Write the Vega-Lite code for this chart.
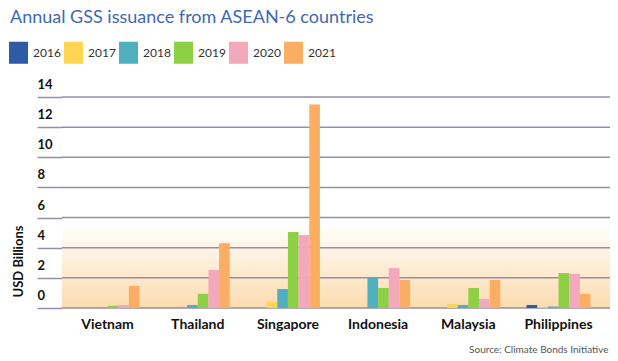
{
  "$schema": "https://vega.github.io/schema/vega-lite/v6.json",
  "width": 548,
  "height": 211,
  "autosize": {"type": "none"},
  "padding": {"left": 62, "top": 97, "right": 8, "bottom": 53},
  "background": "white",
  "config": {"view": {"stroke": null}, "font": "Lato"},
  "title": {
    "text": "Annual GSS issuance from ASEAN-6 countries",
    "anchor": "start",
    "frame": "group",
    "dx": -52,
    "fontSize": 18,
    "fontWeight": "normal",
    "color": "#4169b0",
    "offset": 16
  },
  "datasets": {
    "issuance": [
      {"country": "Vietnam", "year": "2019", "value": 0.15},
      {"country": "Vietnam", "year": "2020", "value": 0.2},
      {"country": "Vietnam", "year": "2021", "value": 1.47},
      {"country": "Thailand", "year": "2018", "value": 0.2},
      {"country": "Thailand", "year": "2019", "value": 0.94},
      {"country": "Thailand", "year": "2020", "value": 2.52},
      {"country": "Thailand", "year": "2021", "value": 4.3},
      {"country": "Singapore", "year": "2017", "value": 0.42},
      {"country": "Singapore", "year": "2018", "value": 1.26},
      {"country": "Singapore", "year": "2019", "value": 5.04},
      {"country": "Singapore", "year": "2020", "value": 4.84},
      {"country": "Singapore", "year": "2021", "value": 13.5},
      {"country": "Indonesia", "year": "2018", "value": 2.05},
      {"country": "Indonesia", "year": "2019", "value": 1.33},
      {"country": "Indonesia", "year": "2020", "value": 2.65},
      {"country": "Indonesia", "year": "2021", "value": 1.86},
      {"country": "Malaysia", "year": "2017", "value": 0.27},
      {"country": "Malaysia", "year": "2018", "value": 0.2},
      {"country": "Malaysia", "year": "2019", "value": 1.33},
      {"country": "Malaysia", "year": "2020", "value": 0.6},
      {"country": "Malaysia", "year": "2021", "value": 1.86},
      {"country": "Philippines", "year": "2016", "value": 0.2},
      {"country": "Philippines", "year": "2017", "value": 0.05},
      {"country": "Philippines", "year": "2018", "value": 0.1},
      {"country": "Philippines", "year": "2019", "value": 2.32},
      {"country": "Philippines", "year": "2020", "value": 2.26},
      {"country": "Philippines", "year": "2021", "value": 0.93}
    ],
    "gridlines": [
      {"v": 0}, {"v": 2}, {"v": 4}, {"v": 6}, {"v": 8}, {"v": 10}, {"v": 12}, {"v": 14}
    ]
  },
  "layer": [
    {
      "mark": {
        "type": "rect",
        "color": {
          "gradient": "linear",
          "x1": 0, "y1": 0, "x2": 0, "y2": 1,
          "stops": [
            {"offset": 0, "color": "#ffffff"},
            {"offset": 1, "color": "#fcdcb0"}
          ]
        }
      },
      "data": {"values": [{}]},
      "encoding": {
        "y": {
          "datum": 5.7,
          "type": "quantitative",
          "scale": {"domain": [0, 14], "nice": false},
          "axis": {
            "values": [0, 2, 4, 6, 8, 10, 12, 14],
            "tickCount": 8,
            "grid": false,
            "domain": false,
            "ticks": true,
            "tickSize": 25,
            "tickColor": "#958fa5",
            "tickWidth": 1.5,
            "labelAlign": "left",
            "labelPadding": 0,
            "labelOffset": -12.5,
            "labelBaseline": "middle",
            "labelFontWeight": "bold",
            "labelFontSize": 13,
            "labelColor": "#111111",
            "labelFlush": false,
            "labelOverlap": false,
            "title": "USD Billions",
            "titleFontSize": 13,
            "titleFontWeight": "bold",
            "titleColor": "#111111",
            "titleAngle": 270,
            "titleAlign": "center",
            "titleBaseline": "middle",
            "titleX": -44,
            "titleY": 164
          }
        },
        "y2": {"datum": 0}
      }
    },
    {
      "data": {"name": "gridlines"},
      "mark": {"type": "rule", "color": "#958fa5", "strokeWidth": 1.5},
      "encoding": {
        "y": {"field": "v", "type": "quantitative"}
      }
    },
    {
      "data": {"name": "issuance"},
      "mark": {"type": "bar", "opacity": 1},
      "encoding": {
        "x": {
          "field": "country",
          "type": "nominal",
          "sort": ["Vietnam", "Thailand", "Singapore", "Indonesia", "Malaysia", "Philippines"],
          "scale": {"paddingInner": 0.2905, "paddingOuter": 0.183, "align": 0.41, "round": false},
          "axis": {
            "labelAngle": 0,
            "labelFontWeight": "bold",
            "labelFontSize": 14,
            "labelColor": "#111111",
            "labelPadding": 9,
            "ticks": false,
            "domain": false,
            "title": "Source: Climate Bonds Initiative",
            "titleFontSize": 10,
            "titleFontWeight": "normal",
            "titleColor": "#555555",
            "titleAlign": "right",
            "titleAnchor": "end",
            "titleBaseline": "middle",
            "titleX": 546,
            "titleY": 41
          }
        },
        "xOffset": {
          "field": "year",
          "type": "nominal",
          "scale": {"domain": ["2016", "2017", "2018", "2019", "2020", "2021"], "paddingInner": 0, "paddingOuter": 0}
        },
        "y": {
          "field": "value",
          "type": "quantitative"
        },
        "color": {
          "field": "year",
          "type": "nominal",
          "scale": {
            "domain": ["2016", "2017", "2018", "2019", "2020", "2021"],
            "range": ["#2e5aa6", "#ffd654", "#4fb1bf", "#8dd045", "#f4a8bb", "#f9ae63"]
          },
          "legend": {
            "title": null,
            "orient": "none",
            "direction": "horizontal",
            "legendX": -53,
            "legendY": -54,
            "symbolType": "M-1,-1.16H1V1.16H-1Z",
            "symbolSize": 361,
            "symbolStrokeWidth": 0,
            "symbolOpacity": 1,
            "labelFontSize": 12,
            "labelColor": "#333333",
            "labelOffset": 5,
            "columnPadding": 3
          }
        }
      }
    }
  ]
}
